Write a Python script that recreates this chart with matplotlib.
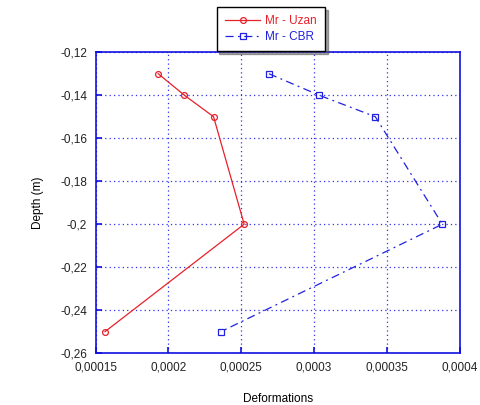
import matplotlib
matplotlib.use("Agg")
import matplotlib.pyplot as plt
import numpy as np
from matplotlib.ticker import FuncFormatter, MultipleLocator

plt.rcParams['font.family'] = ['Liberation Sans', 'DejaVu Sans']

depth = [-0.13, -0.14, -0.15, -0.20, -0.25]
uzan = [0.000193, 0.000211, 0.000231, 0.000252, 0.0001565]
cbr = [0.000269, 0.0003035, 0.000342, 0.000388, 0.000236]


def comma(v, pos):
    s = np.format_float_positional(round(v, 6), trim='-')
    return s.replace('.', ',')


fig = plt.figure(figsize=(4.8, 4.05), dpi=100)
ax = fig.add_axes([0.199, 0.128, 0.759, 0.743])

ax.plot(uzan, depth, color='#e8202a', lw=0.9, marker='o', ms=4.2,
        mfc='none', mec='#e8202a', mew=0.9, label='Mr - Uzan')
ax.plot(cbr, depth, color='#2020e0', lw=0.9, marker='s', ms=4.2,
        mfc='none', mec='#2020e0', mew=0.9, dashes=(6.5, 3.5, 1.5, 3.5),
        label='Mr - CBR')

ax.set_xlim(0.00015, 0.0004)
ax.set_ylim(-0.26, -0.12)
ax.xaxis.set_major_locator(MultipleLocator(0.00005))
ax.yaxis.set_major_locator(MultipleLocator(0.02))
ax.xaxis.set_major_formatter(FuncFormatter(comma))
ax.yaxis.set_major_formatter(FuncFormatter(comma))

ax.grid(True, color='#3030f0', ls=(0, (1, 2.5)), lw=0.9)
for sp in ax.spines.values():
    sp.set_color('#1010e0')
    sp.set_linewidth(1.2)
ax.tick_params(direction='in', colors='#1010e0', labelcolor='#222222',
               labelsize=8.5, length=4, width=1.2, pad=6)

ax.set_xlabel('Deformations', fontsize=8.5, labelpad=14)
ax.set_ylabel('Depth (m)', fontsize=8.5, labelpad=12)

leg = ax.legend(loc='lower center', bbox_to_anchor=(0.481, 1.004), fontsize=8.5,
                fancybox=False, shadow=True, edgecolor='black',
                framealpha=1, handlelength=3.0, handletextpad=0.4,
                borderpad=0.7, labelspacing=0.3, borderaxespad=0)
leg.get_frame().set_linewidth(1.0)
for t, c in zip(leg.get_texts(), ['#e8202a', '#2020e0']):
    t.set_color(c)

fig.savefig('out.png', dpi=100)
